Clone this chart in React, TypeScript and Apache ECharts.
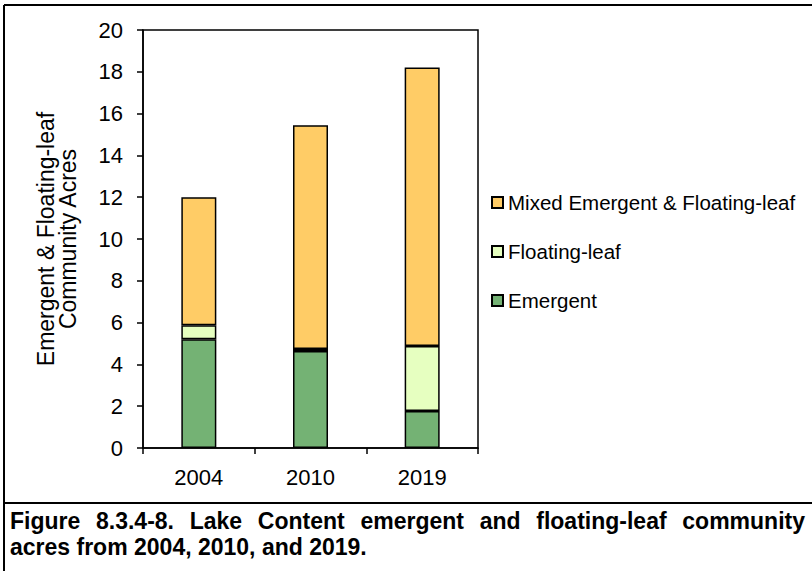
import React, { useEffect, useRef } from "react";
import * as echarts from "echarts";

// Survey years and community acreage per class
const years = ["2004", "2010", "2019"];
const emergent = [5.2, 4.64, 1.77];
const floatingLeaf = [0.67, 0.1, 3.11];
const mixedEmergentFloating = [6.13, 10.7, 13.33];

const seriesNames = ["Emergent", "Floating-leaf", "Mixed Emergent & Floating-leaf"];
const legendOrder = ["Mixed Emergent & Floating-leaf", "Floating-leaf", "Emergent"];
const seriesColors = ["#74B274", "#E6FFC0", "#FFCC66"];

const yAxisTitle = "Emergent & Floating-leaf\nCommunity Acres";
const captionLine1 = "Figure 8.3.4-8. Lake Content emergent and floating-leaf community";
const captionLine2 = "acres from 2004, 2010, and 2019.";

const W = 812;
const H = 571;
const FONT = '"Liberation Sans", Arial, Helvetica, sans-serif';
const CAPTION_SIZE = 23;

// Spread the words of a line evenly between two x positions
function justifiedWords(line: string, x0: number, x1: number, y: number) {
  const words = line.split(" ");
  const ctx = document.createElement("canvas").getContext("2d")!;
  ctx.font = `bold ${CAPTION_SIZE}px ${FONT}`;
  const widths = words.map((w) => ctx.measureText(w).width);
  const total = widths.reduce((a, b) => a + b, 0);
  const gap = words.length > 1 ? (x1 - x0 - total) / (words.length - 1) : 0;
  let x = x0;
  return words.map((w, i) => {
    const el = {
      type: "text",
      x,
      y,
      style: {
        text: w,
        font: `bold ${CAPTION_SIZE}px ${FONT}`,
        fill: "#000",
        textVerticalAlign: "middle",
        verticalAlign: "middle",
      },
    };
    x += widths[i] + gap;
    return el;
  });
}

export default function App() {
  const ref = useRef<HTMLDivElement>(null);

  useEffect(() => {
    document.body.style.margin = "0";
    if (!ref.current) return;
    const chart = echarts.init(ref.current, null, { renderer: "svg" });

    const values = [emergent, floatingLeaf, mixedEmergentFloating];

    chart.setOption({
      animation: false,
      backgroundColor: "#fff",
      textStyle: { fontFamily: FONT, color: "#000" },
      grid: {
        left: 143,
        right: W - 478,
        top: 30,
        bottom: H - 448,
        show: true,
        borderColor: "#000",
        borderWidth: 1.5,
        backgroundColor: "transparent",
      },
      legend: {
        orient: "vertical",
        left: 491,
        top: 192,
        padding: 0,
        itemWidth: 11,
        itemHeight: 11,
        itemGap: 28,
        icon: "rect",
        data: legendOrder,
        textStyle: { fontSize: 20.5, lineHeight: 21, color: "#000", fontFamily: FONT },
        selectedMode: false,
      },
      xAxis: {
        type: "category",
        data: years,
        axisLine: { lineStyle: { color: "#000", width: 1.5 } },
        axisTick: { show: true, alignWithLabel: false, length: 6, lineStyle: { color: "#000", width: 1.5 } },
        axisLabel: { fontSize: 22, color: "#000", margin: 18, fontFamily: FONT },
      },
      yAxis: {
        type: "value",
        min: 0,
        max: 20,
        interval: 2,
        name: yAxisTitle,
        nameLocation: "middle",
        nameGap: 64,
        nameRotate: 90,
        nameTextStyle: { fontSize: 23, lineHeight: 22, color: "#000", fontFamily: FONT },
        splitLine: { show: false },
        axisLine: { show: true, lineStyle: { color: "#000", width: 1.5 } },
        axisTick: { show: true, length: 6, lineStyle: { color: "#000", width: 1.5 } },
        axisLabel: { fontSize: 22, color: "#000", margin: 20, fontFamily: FONT },
      },
      series: seriesNames.map((name, i) => ({
        name,
        type: "bar",
        stack: "acres",
        barWidth: 35,
        data: values[i],
        itemStyle: { color: seriesColors[i], borderColor: "#000", borderWidth: 1.5 },
      })),
      graphic: [
        { type: "line", shape: { x1: 4, y1: 5, x2: W, y2: 5 }, style: { stroke: "#000", lineWidth: 2 } },
        { type: "line", shape: { x1: 4, y1: 5, x2: 4, y2: H }, style: { stroke: "#000", lineWidth: 2 } },
        { type: "line", shape: { x1: 4, y1: 503, x2: W, y2: 503 }, style: { stroke: "#000", lineWidth: 2 } },
        ...justifiedWords(captionLine1, 10, 805, 521),
        {
          type: "text",
          x: 10,
          y: 547,
          style: {
            text: captionLine2,
            font: `bold ${CAPTION_SIZE}px ${FONT}`,
            fill: "#000",
            textVerticalAlign: "middle",
            verticalAlign: "middle",
          },
        },
      ],
    });

    return () => chart.dispose();
  }, []);

  return <div ref={ref} style={{ width: W, height: H }} />;
}
